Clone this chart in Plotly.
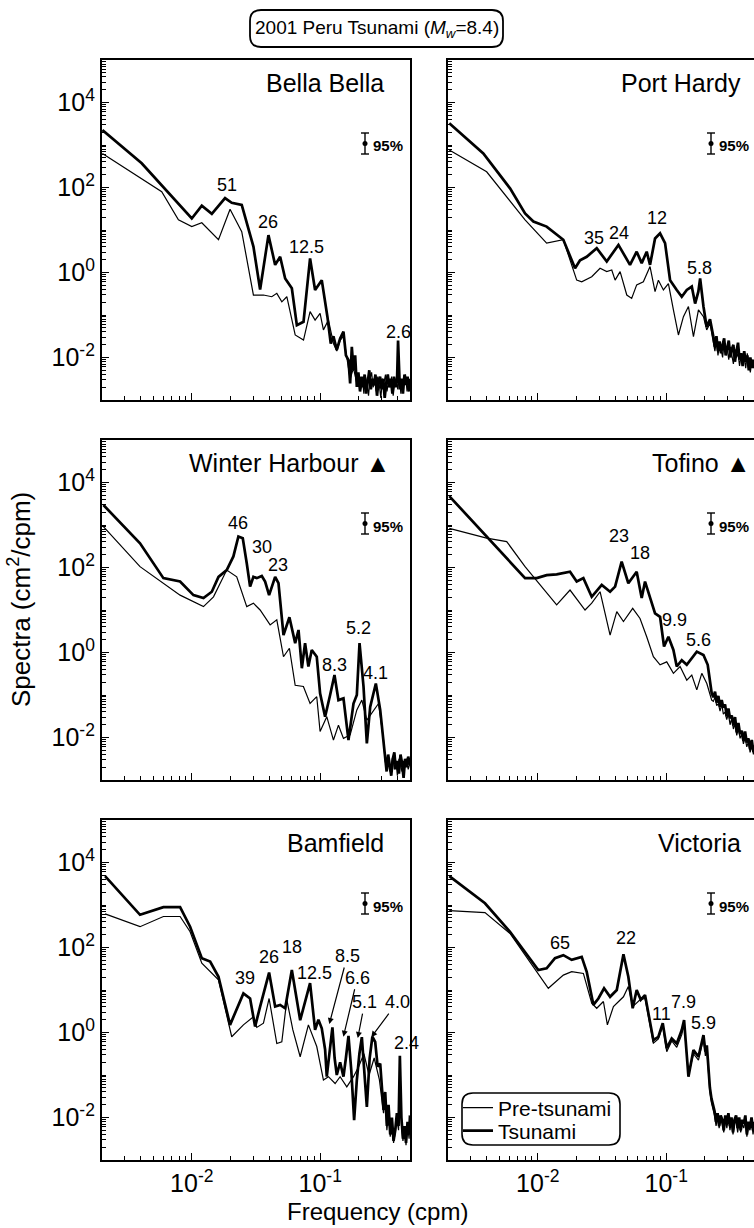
import numpy as np
import plotly.graph_objects as go

# ----------------------------------------------------------------------------
# DATA  (log10 of frequency [cpm]  and  log10 of spectral density [cm^2/cpm])
# ----------------------------------------------------------------------------
STATIONS = ["Bella Bella", "Port Hardy", "Winter Harbour \u25B2", "Tofino \u25B2", "Bamfield", "Victoria"]
SERIES_NAMES = ["Pre-tsunami", "Tsunami"]

# --- Bella Bella ---
BB_TSU_LOGF = [-2.696, -2.390, -2.000, -1.922, -1.844, -1.741, -1.689, -1.611, -1.520, -1.468, -1.403, -1.351,
               -1.312, -1.273, -1.221, -1.182, -1.130, -1.079, -1.040, -0.988, -0.944, -0.918, -0.897, -0.871,
               -0.845, -0.819, -0.800, -0.780, -0.767, -0.754, -0.741, -0.728, -0.715, -0.703, -0.690, -0.678,
               -0.666, -0.654, -0.642, -0.630, -0.618, -0.606, -0.594, -0.582, -0.570, -0.558, -0.546, -0.534,
               -0.522, -0.510, -0.498, -0.486, -0.474, -0.462, -0.450, -0.438, -0.426, -0.414, -0.402, -0.394,
               -0.388, -0.380, -0.368, -0.356, -0.344, -0.332, -0.320, -0.308, -0.301]
BB_TSU_LOGS = [3.35, 2.57, 1.27, 1.57, 1.38, 1.75, 1.64, 1.59, 0.61, -0.40, 0.88, 0.18,
               0.37, -0.14, -0.37, -1.24, -1.16, 0.33, -0.41, -0.18, -1.04, -1.67, -1.50, -1.82,
               -1.55, -1.39, -1.95, -2.06, -2.61, -1.75, -2.30, -1.95, -2.69, -2.35, -2.80, -2.45,
               -2.70, -2.40, -2.85, -2.55, -2.30, -2.75, -2.50, -2.65, -2.40, -2.90, -2.55, -2.45,
               -2.75, -2.50, -2.95, -2.60, -2.40, -2.70, -2.50, -2.85, -2.45, -2.70, -2.55, -1.60,
               -2.40, -2.75, -2.50, -2.85, -2.40, -2.65, -2.45, -2.80, -2.50]
BB_PRE_LOGF = [-2.696, -2.234, -2.104, -2.000, -1.922, -1.792, -1.702, -1.611, -1.520, -1.442, -1.377, -1.338,
               -1.299, -1.260, -1.195, -1.130, -1.079, -1.040, -1.001, -0.975, -0.936, -0.897, -0.871, -0.845,
               -0.819, -0.793, -0.767, -0.741, -0.715, -0.697, -0.684, -0.672, -0.660, -0.648, -0.636, -0.624,
               -0.612, -0.600, -0.588, -0.576, -0.564, -0.552, -0.540, -0.528, -0.516, -0.504, -0.492, -0.480,
               -0.468, -0.456, -0.444, -0.432, -0.420, -0.408, -0.396, -0.384, -0.372, -0.360, -0.348, -0.336,
               -0.324, -0.312, -0.301]
BB_PRE_LOGS = [2.80, 1.90, 1.24, 1.08, 1.17, 0.77, 1.49, 0.96, -0.53, -0.53, -0.57, -0.49,
               -0.69, -0.57, -1.47, -1.59, -0.92, -1.12, -0.96, -1.35, -1.12, -1.67, -1.85, -1.60,
               -1.50, -2.05, -2.50, -2.25, -2.60, -2.40, -2.75, -2.50, -2.85, -2.45, -2.60, -2.90,
               -2.50, -2.35, -2.70, -2.55, -2.80, -2.45, -2.65, -2.95, -2.50, -2.60, -2.40, -2.80,
               -2.55, -2.70, -2.45, -2.90, -2.60, -2.50, -2.75, -2.45, -2.85, -2.55, -2.65, -2.40,
               -2.80, -2.55, -2.70]

# --- Port Hardy ---
PH_TAIL_LOGF = [-0.621, -0.609, -0.597, -0.585, -0.573, -0.561, -0.549, -0.537, -0.525, -0.513, -0.501, -0.489,
                -0.477, -0.465, -0.453, -0.441, -0.429, -0.417, -0.405, -0.393, -0.381, -0.369, -0.357, -0.345,
                -0.333, -0.321, -0.316]
PH_TSU_LOGF = [-2.689, -2.424, -2.216, -2.099, -2.034, -1.931, -1.801, -1.710, -1.671, -1.619, -1.541, -1.463,
               -1.372, -1.282, -1.230, -1.191, -1.152, -1.126, -1.087, -1.048, -1.009, -0.970, -0.918, -0.879,
               -0.840, -0.801, -0.775, -0.750, -0.736, -0.720, -0.710, -0.685, -0.659, -0.633]
PH_TSU_LOGS = [3.51, 2.80, 1.98, 1.39, 1.20, 1.08, 0.77, 0.10, 0.29, 0.37, 0.57, 0.26,
               0.65, 0.18, 0.49, 0.22, 0.49, 0.18, 0.80, 0.92, 0.69, -0.18, -0.41, -0.57,
               -0.41, -0.33, -0.73, -0.45, -0.14, -0.60, -0.80, -1.28, -1.10, -1.51,
               -1.75, -1.50, -1.85, -1.62, -1.90, -1.70, -1.55, -1.95, -1.75, -1.60, -2.00, -1.80,
               -1.70, -2.10, -1.85, -1.65, -2.05, -1.90, -2.20, -1.85, -2.10, -1.95, -2.30, -2.00,
               -2.25, -2.05, -2.20]
PH_PRE_LOGF = [-2.689, -2.398, -2.099, -1.931, -1.801, -1.697, -1.658, -1.580, -1.515, -1.463, -1.424, -1.398,
               -1.359, -1.307, -1.269, -1.230, -1.178, -1.126, -1.087, -1.061, -1.022, -0.983, -0.944, -0.905,
               -0.866, -0.827, -0.788, -0.749, -0.710, -0.685, -0.659, -0.633]
PH_PRE_LOGS = [2.88, 2.37, 1.24, 0.69, 0.77, -0.18, -0.22, -0.10, 0.10, 0.02, 0.06, -0.18,
               0.02, -0.53, -0.61, -0.29, -0.22, 0.14, -0.45, -0.18, -0.41, -0.26, -0.88, -1.47,
               -1.04, -0.80, -1.51, -0.88, -1.04, -1.35, -1.20, -1.60,
               -1.85, -1.60, -1.95, -1.70, -1.80, -2.00, -1.65, -1.90, -1.80, -2.05, -1.75, -1.95,
               -2.15, -1.80, -2.00, -1.90, -2.20, -1.95, -2.10, -2.00, -2.25, -1.90, -2.15, -2.35,
               -2.05, -2.25, -2.15]

# --- Winter Harbour ---
WH_TAIL_LOGF = [-0.495, -0.483, -0.471, -0.459, -0.447, -0.435, -0.423, -0.411, -0.399, -0.387, -0.375, -0.363,
                -0.351, -0.339, -0.327, -0.315, -0.301]
WH_TSU_LOGF = [-2.688, -2.403, -2.221, -2.091, -1.987, -1.909, -1.844, -1.792, -1.728, -1.676, -1.637, -1.603,
               -1.572, -1.546, -1.520, -1.494, -1.455, -1.429, -1.398, -1.351, -1.325, -1.286, -1.240, -1.195,
               -1.169, -1.143, -1.118, -1.092, -1.066, -1.027, -1.001, -0.962, -0.923, -0.889, -0.858, -0.819,
               -0.780, -0.741, -0.715, -0.694, -0.663, -0.637, -0.611, -0.567, -0.533, -0.507]
WH_TSU_LOGS = [3.47, 2.57, 1.75, 1.67, 1.35, 1.28, 1.43, 1.78, 1.94, 2.26, 2.73, 2.69,
               2.10, 1.55, 1.78, 1.75, 1.80, 1.67, 1.35, 1.78, 1.63, 0.41, 0.83, 0.22,
               0.53, -0.37, 0.22, -0.33, 0.06, -0.10, -0.96, -1.51, -1.00, -0.53, -1.12, -1.08,
               -2.06, -1.20, -1.00, 0.22, -0.80, -2.14, -1.28, -0.73, -1.35, -2.14,
               -2.45, -2.80, -2.40, -2.65, -2.90, -2.50, -2.35, -2.75, -2.55, -2.85, -2.40, -2.60,
               -2.95, -2.50, -2.70, -2.45, -2.65]
WH_PRE_LOGF = [-2.688, -2.403, -2.091, -1.909, -1.831, -1.728, -1.650, -1.572, -1.520, -1.468, -1.390, -1.338,
               -1.286, -1.240, -1.195, -1.131, -1.079, -1.027, -1.001, -0.949, -0.897, -0.858, -0.819, -0.767,
               -0.715, -0.676, -0.637, -0.585, -0.546, -0.507]
WH_PRE_LOGS = [2.96, 2.02, 1.35, 1.08, 1.31, 1.94, 1.78, 1.08, 1.16, 1.00, 0.65, 0.77,
               -0.10, 0.10, -0.77, -0.80, -1.20, -1.04, -1.86, -1.51, -2.06, -1.71, -2.02, -1.94,
               -1.35, -1.12, -1.59, -1.35, -1.20, -2.06,
               -2.55, -2.70, -2.50, -2.80, -2.60, -2.45, -2.75, -2.55, -2.90, -2.50, -2.65, -2.80,
               -2.55, -2.70, -2.50, -2.75, -2.60]

# --- Tofino ---
TO_TAIL_LOGF = [-0.633, -0.620, -0.607, -0.594, -0.581, -0.568, -0.555, -0.542, -0.529, -0.516, -0.503, -0.490,
                -0.477, -0.464, -0.451, -0.438, -0.425, -0.412, -0.399, -0.386, -0.373, -0.360, -0.347, -0.334,
                -0.321, -0.316]
TO_TSU_LOGF = [-2.689, -2.099, -2.008, -1.931, -1.853, -1.749, -1.697, -1.645, -1.580, -1.502, -1.437, -1.398,
               -1.347, -1.295, -1.230, -1.191, -1.165, -1.126, -1.087, -1.048, -1.017, -0.983, -0.944, -0.918,
               -0.879, -0.840, -0.801, -0.762, -0.710, -0.677, -0.646]
TO_TSU_LOGS = [3.68, 1.75, 1.75, 1.82, 1.84, 1.90, 1.67, 1.75, 1.31, 1.59, 1.43, 1.55,
               2.14, 1.63, 1.90, 1.28, 1.67, 1.28, 0.92, 0.84, 0.14, 0.37, 0.06, -0.33,
               -0.18, -0.29, -0.14, 0.02, -0.06, -0.29, -0.96,
               -1.05, -0.92, -1.18, -1.02, -1.28, -1.12, -1.30, -1.22, -1.50, -1.32, -1.55, -1.48,
               -1.72, -1.52, -1.88, -1.66, -1.92, -1.84, -2.08, -1.86, -2.12, -2.02, -2.28, -2.06,
               -2.34, -2.18]
TO_PRE_LOGF = [-2.689, -2.398, -2.242, -2.099, -1.853, -1.749, -1.632, -1.580, -1.515, -1.476, -1.437, -1.385,
               -1.333, -1.261, -1.204, -1.152, -1.100, -1.048, -0.996, -0.944, -0.892, -0.840, -0.801, -0.762,
               -0.723, -0.684, -0.646]
TO_PRE_LOGS = [2.92, 2.69, 2.61, 2.02, 1.12, 1.47, 1.00, 1.16, 1.43, 0.92, 0.41, 0.96,
               0.73, 1.04, 0.80, 0.37, -0.10, -0.29, -0.22, -0.49, -0.33, -0.65, -0.53, -0.88,
               -0.49, -0.73, -1.12,
               -1.15, -1.05, -1.25, -1.20, -1.38, -1.22, -1.45, -1.40, -1.58, -1.44, -1.70, -1.55,
               -1.80, -1.68, -1.95, -1.78, -2.02, -1.92, -2.15, -2.00, -2.22, -2.10, -2.35, -2.18,
               -2.40, -2.30]

# --- Bamfield ---
BA_TAIL_LOGF = [-0.494, -0.481, -0.468, -0.455, -0.442, -0.429, -0.416, -0.403, -0.390, -0.380, -0.368, -0.356,
                -0.344, -0.332, -0.320, -0.308, -0.301]
BA_TSU_LOGF = [-2.675, -2.403, -2.221, -2.091, -2.013, -1.922, -1.857, -1.792, -1.702, -1.598, -1.546, -1.507,
               -1.468, -1.398, -1.351, -1.312, -1.273, -1.221, -1.156, -1.079, -1.040, -1.014, -0.988, -0.962,
               -0.949, -0.927, -0.905, -0.888, -0.871, -0.845, -0.819, -0.800, -0.780, -0.758, -0.736, -0.715,
               -0.695, -0.676, -0.656, -0.637, -0.615, -0.594, -0.572, -0.553, -0.533, -0.507]
BA_TSU_LOGS = [3.68, 2.77, 2.95, 2.95, 2.49, 1.75, 1.67, 1.31, 0.18, 0.92, 0.80, 0.14,
               0.61, 1.41, 0.61, 0.65, 0.57, 1.47, 0.29, 1.16, 0.06, 0.30, 0.10, -0.40,
               -1.04, -0.50, 0.12, -0.60, -1.00, -0.70, -1.04, -0.60, -0.08, -0.90, -2.06, -1.12,
               -0.50, -0.11, -0.90, -1.75, -0.60, -0.10, -0.22, -0.80, -0.73, -1.82,
               -1.40, -2.20, -1.70, -2.40, -2.00, -2.55, -2.30, -1.90, -2.20, -0.55, -2.00, -2.50,
               -2.20, -2.60, -2.10, -2.40, -1.95]
BA_PRE_LOGF = [-2.675, -2.403, -2.221, -2.091, -2.013, -1.922, -1.792, -1.689, -1.598, -1.520, -1.494, -1.442,
               -1.398, -1.338, -1.299, -1.260, -1.213, -1.156, -1.092, -1.027, -0.975, -0.936, -0.884, -0.845,
               -0.793, -0.741, -0.700, -0.660, -0.620, -0.580, -0.540, -0.507]
BA_PRE_LOGS = [2.79, 2.49, 2.73, 2.73, 2.37, 1.63, 1.24, -0.10, 0.18, 0.37, 0.12, 0.22,
               0.80, -0.26, -0.22, 0.77, 0.06, -0.57, 0.18, -0.33, -1.12, -1.04, -1.20, -1.04,
               -1.28, -1.04, -0.80, -0.50, -1.00, -0.60, -1.10, -1.90,
               -1.60, -2.30, -1.90, -2.45, -2.10, -2.60, -2.35, -2.05, -2.30, -0.80, -2.15, -2.55,
               -2.30, -2.65, -2.20, -2.50, -2.05]

# --- Victoria ---
VI_TAIL_LOGF = [-0.624, -0.612, -0.600, -0.588, -0.576, -0.564, -0.552, -0.540, -0.528, -0.516, -0.504, -0.492,
                -0.480, -0.468, -0.456, -0.444, -0.432, -0.420, -0.408, -0.396, -0.384, -0.372, -0.360, -0.348,
                -0.336, -0.324, -0.316]
VI_TSU_LOGF = [-2.689, -2.411, -2.216, -1.996, -1.931, -1.866, -1.801, -1.736, -1.658, -1.619, -1.567, -1.528,
               -1.484, -1.437, -1.385, -1.333, -1.295, -1.261, -1.230, -1.198, -1.165, -1.126, -1.100, -1.061,
               -1.027, -0.996, -0.957, -0.918, -0.879, -0.861, -0.827, -0.788, -0.749, -0.710, -0.695, -0.684,
               -0.672, -0.660, -0.648, -0.636]
VI_TSU_LOGS = [3.68, 3.04, 2.37, 1.47, 1.51, 1.75, 1.82, 1.71, 1.78, 1.43, 0.65, 0.80,
               1.04, 0.84, 1.00, 1.84, 1.31, 0.57, 1.00, 0.77, 0.88, 0.22, -0.18, -0.10,
               0.22, -0.37, -0.14, -0.26, 0.06, 0.29, -1.04, -0.41, -0.57, -0.06, -0.45, -0.30,
               -0.90, -1.30, -1.55, -1.70,
               -1.85, -2.10, -1.90, -2.20, -1.95, -2.05, -2.30, -1.95, -2.15, -1.90, -2.20, -2.00,
               -2.35, -2.05, -1.95, -2.25, -2.00, -2.30, -2.05, -2.15, -1.95, -2.40, -2.10, -2.25,
               -2.00, -2.30, -2.10]
VI_PRE_LOGF = [-2.689, -2.411, -2.216, -1.918, -1.801, -1.736, -1.645, -1.580, -1.541, -1.489, -1.458, -1.411,
               -1.333, -1.295, -1.261, -1.204, -1.165, -1.126, -1.100, -1.061, -1.027, -0.996, -0.957, -0.918,
               -0.879, -0.861, -0.827, -0.788, -0.749, -0.710, -0.695, -0.684, -0.672, -0.660, -0.648, -0.636]
VI_PRE_LOGS = [2.87, 2.82, 2.33, 1.04, 1.35, 1.43, 1.39, 0.69, 0.57, 0.73, 0.18, 0.61,
               0.84, 1.08, 0.61, 0.77, 0.80, 0.15, -0.25, -0.15, 0.15, -0.45, -0.20, -0.35,
               -0.05, 0.20, -1.00, -0.50, -0.65, -0.15, -0.55, -0.40, -1.00, -1.40, -1.65, -1.80,
               -1.95, -2.20, -2.00, -2.25, -2.05, -2.15, -2.35, -2.05, -2.25, -2.00, -2.30, -2.10,
               -2.40, -2.15, -2.05, -2.35, -2.10, -2.35, -2.15, -2.25, -2.05, -2.45, -2.20, -2.30,
               -2.10, -2.40, -2.20]

# Peak labels: period (min) and log10 spectral level of the label
BB_PEAK_PERIODS = ["51", "26", "12.5", "2.6"]
BB_PEAK_LOGS = [2.06, 1.19, 0.60, -1.40]
PH_PEAK_PERIODS = ["35", "24", "12", "5.8"]
PH_PEAK_LOGS = [0.81, 0.93, 1.28, 0.11]
WH_PEAK_PERIODS = ["46", "30", "23", "8.3", "5.2", "4.1"]
WH_PEAK_LOGS = [3.05, 2.48, 2.06, -0.29, 0.58, -0.48]
TO_PEAK_PERIODS = ["23", "18", "9.9", "5.6"]
TO_PEAK_LOGS = [2.74, 2.34, 0.77, 0.29]
BA_PEAK_PERIODS = ["39", "26", "18", "12.5", "2.4"]
BA_PEAK_LOGS = [1.28, 1.78, 2.01, 1.40, -0.25]
BA_ARROW_PERIODS = ["8.5", "6.6", "5.1", "4.0"]
BA_ARROW_LOGS = [0.20, -0.10, -0.13, -0.11]
VI_PEAK_PERIODS = ["65", "22", "11", "7.9", "5.9"]
VI_PEAK_LOGS = [2.11, 2.22, 0.44, 0.72, 0.22]

# Axis tick labels
X_TICK_VALUES = [0.01, 0.1]
X_TICK_LABELS = ["10<sup>-2</sup>", "10<sup>-1</sup>"]
Y_TICK_VALUES = [1e-2, 1e0, 1e2, 1e4]
Y_TICK_LABELS = ["10<sup>-2</sup>", "10<sup>0</sup>", "10<sup>2</sup>", "10<sup>4</sup>"]

# ----------------------------------------------------------------------------
# LAYOUT / STYLE
# ----------------------------------------------------------------------------
FONT = "Liberation Sans, Arial, Helvetica, sans-serif"
FIG_W, FIG_H = 754, 1228
ML, MR, MT, MB = 102, 0, 60, 68
PW = FIG_W - ML - MR
PH = FIG_H - MT - MB
COL_L = [102, 448]
COL_R = [410, 754]
ROW_T = [60, 440, 820]
ROW_B = [400, 780, 1160]
XMIN = np.log10(0.002)
XMAX_L = np.log10(0.5)
PX_PER_DEC = (COL_R[0] - COL_L[0]) / (XMAX_L - XMIN)
XMAX = [XMAX_L, XMIN + (COL_R[1] - COL_L[1]) / PX_PER_DEC]


def px2x(px):
    return (px - ML) / PW


def py2y(py):
    return (FIG_H - MB - py) / PH


def rounded_path(x0, y0, x1, y1, r):
    X = px2x
    Y = py2y
    return (f"M {X(x0 + r)},{Y(y0)} L {X(x1 - r)},{Y(y0)} Q {X(x1)},{Y(y0)} {X(x1)},{Y(y0 + r)} "
            f"L {X(x1)},{Y(y1 - r)} Q {X(x1)},{Y(y1)} {X(x1 - r)},{Y(y1)} "
            f"L {X(x0 + r)},{Y(y1)} Q {X(x0)},{Y(y1)} {X(x0)},{Y(y1 - r)} "
            f"L {X(x0)},{Y(y0 + r)} Q {X(x0)},{Y(y0)} {X(x0 + r)},{Y(y0)} Z")


panels = [
    dict(name=STATIONS[0], row=0, col=0, pre=(BB_PRE_LOGF, BB_PRE_LOGS), tsu=(BB_TSU_LOGF, BB_TSU_LOGS),
         peaks=(BB_PEAK_PERIODS, BB_PEAK_LOGS), shifts=[-2, 1, -1, 3], name_right=386),
    dict(name=STATIONS[1], row=0, col=1, pre=(PH_PRE_LOGF + PH_TAIL_LOGF, PH_PRE_LOGS),
         tsu=(PH_TSU_LOGF + PH_TAIL_LOGF, PH_TSU_LOGS),
         peaks=(PH_PEAK_PERIODS, PH_PEAK_LOGS), shifts=[-2, 2, 1, 3], name_right=743),
    dict(name=STATIONS[2], row=1, col=0, pre=(WH_PRE_LOGF + WH_TAIL_LOGF, WH_PRE_LOGS),
         tsu=(WH_TSU_LOGF + WH_TAIL_LOGF, WH_TSU_LOGS),
         peaks=(WH_PEAK_PERIODS, WH_PEAK_LOGS), shifts=[3, 3, 4, 4, 2, 6], name_right=392),
    dict(name=STATIONS[3], row=1, col=1, pre=(TO_PRE_LOGF + TO_TAIL_LOGF, TO_PRE_LOGS),
         tsu=(TO_TSU_LOGF + TO_TAIL_LOGF, TO_TSU_LOGS),
         peaks=(TO_PEAK_PERIODS, TO_PEAK_LOGS), shifts=[-1, 7, 8, 0], name_right=752),
    dict(name=STATIONS[4], row=2, col=0, pre=(BA_PRE_LOGF + BA_TAIL_LOGF, BA_PRE_LOGS),
         tsu=(BA_TSU_LOGF + BA_TAIL_LOGF, BA_TSU_LOGS),
         peaks=(BA_PEAK_PERIODS, BA_PEAK_LOGS), shifts=[1, 2, 5, 7, 7], name_right=386),
    dict(name=STATIONS[5], row=2, col=1, pre=(VI_PRE_LOGF + VI_TAIL_LOGF, VI_PRE_LOGS),
         tsu=(VI_TSU_LOGF + VI_TAIL_LOGF, VI_TSU_LOGS),
         peaks=(VI_PEAK_PERIODS, VI_PEAK_LOGS), shifts=[-2, 4, 1, 4, 8], name_right=743),
]

ARROW_OFFSETS = [(18, -68), (14, -59), (7, -36), (26, -35)]

XMINOR = [k * 10.0 ** e for e in (-3, -2, -1) for k in range(2, 10)]
YMINOR = [k * 10.0 ** e for e in range(-3, 5) for k in range(1, 10)
          if not (k == 1 and e % 2 == 0)] + [1e5]

fig = go.Figure()
annotations = []
shapes = []
layout_axes = {}
TICKFONT = dict(family=FONT, size=25, color="black")

for i, p in enumerate(panels, start=1):
    xs = "" if i == 1 else str(i)
    row, col = p["row"], p["col"]
    for k, ((f, s), nm, w) in enumerate(((p["pre"], SERIES_NAMES[0], 1.2), (p["tsu"], SERIES_NAMES[1], 2.7))):
        assert len(f) == len(s), (p["name"], nm, len(f), len(s))
        fig.add_trace(go.Scatter(x=10 ** np.array(f), y=10 ** np.array(s), mode="lines",
                                 line=dict(color="black", width=w), name=nm,
                                 xaxis=f"x{xs}", yaxis=f"y{xs}", showlegend=(i == 6),
                                 legend=("legend" if k == 0 else "legend2"),
                                 hoverinfo="skip"))
    layout_axes[f"xaxis{xs}"] = dict(
        domain=[px2x(COL_L[col]), px2x(COL_R[col])], type="log", range=[XMIN, XMAX[col]],
        anchor=f"y{xs}", showline=True, linecolor="black", linewidth=2.2, mirror=True,
        ticks="inside", ticklen=7, tickwidth=1.3, tickcolor="black",
        tickmode="array", tickvals=X_TICK_VALUES, ticktext=X_TICK_LABELS,
        showticklabels=(row == 2), tickfont=TICKFONT,
        minor=dict(ticks="inside", ticklen=4, tickwidth=1, tickcolor="black",
                   tickmode="array", tickvals=XMINOR, showgrid=False),
        showgrid=False, zeroline=False, fixedrange=True)
    layout_axes[f"yaxis{xs}"] = dict(
        domain=[py2y(ROW_B[row]), py2y(ROW_T[row])], type="log", range=[-3, 5],
        anchor=f"x{xs}", showline=True, linecolor="black", linewidth=2.2, mirror=(col == 0),
        ticks="inside", ticklen=7, tickwidth=1.3, tickcolor="black",
        tickmode="array", tickvals=Y_TICK_VALUES, ticktext=Y_TICK_LABELS,
        showticklabels=(col == 0), tickfont=TICKFONT,
        minor=dict(ticks="inside", ticklen=4, tickwidth=1, tickcolor="black",
                   tickmode="array", tickvals=YMINOR, showgrid=False),
        showgrid=False, zeroline=False, fixedrange=True)

    L, T = COL_L[col], ROW_T[row]
    # station name
    annotations.append(dict(x=px2x(p["name_right"]), y=py2y(T + 23), xref="paper", yref="paper",
                            text=p["name"], showarrow=False, xanchor="right", yanchor="middle",
                            font=dict(family=FONT, size=25, color="black")))
    # 95% confidence bar
    xb = L + 263
    for (a, b, c, d) in ((xb, T + 73, xb, T + 94), (xb - 4, T + 73, xb + 4, T + 73),
                         (xb - 4, T + 94, xb + 4, T + 94)):
        shapes.append(dict(type="line", xref="paper", yref="paper", x0=px2x(a), y0=py2y(b),
                           x1=px2x(c), y1=py2y(d), line=dict(color="black", width=1.4)))
    shapes.append(dict(type="circle", xref="paper", yref="paper", x0=px2x(xb - 2.5), x1=px2x(xb + 2.5),
                       y0=py2y(T + 86), y1=py2y(T + 81), fillcolor="black", line=dict(color="black", width=0)))
    annotations.append(dict(x=px2x(L + 269), y=py2y(T + 86), xref="paper", yref="paper",
                            text="<b>95%</b>", showarrow=False, xanchor="left", yanchor="middle",
                            font=dict(family=FONT, size=15, color="black")))
    # peak labels
    periods, levels = p["peaks"]
    for per, lv, sh in zip(periods, levels, p["shifts"]):
        annotations.append(dict(x=np.log10(1.0 / float(per)), y=lv, xref=f"x{xs}", yref=f"y{xs}",
                                text=per, showarrow=False, xshift=sh, xanchor="center", yanchor="middle",
                                font=dict(family=FONT, size=18, color="black")))
    if i == 5:
        for per, lv, (ax, ay) in zip(BA_ARROW_PERIODS, BA_ARROW_LOGS, ARROW_OFFSETS):
            annotations.append(dict(x=np.log10(1.0 / float(per)), y=lv, xref=f"x{xs}", yref=f"y{xs}",
                                    text=per, showarrow=True, ax=ax, ay=ay, arrowhead=2, arrowsize=1,
                                    arrowwidth=1.2, arrowcolor="black", standoff=0,
                                    font=dict(family=FONT, size=18, color="black")))

# title box
shapes.append(dict(type="path", xref="paper", yref="paper", path=rounded_path(250, 10, 503, 47, 11),
                   line=dict(color="black", width=1.8)))
annotations.append(dict(x=px2x(376.5), y=py2y(29), xref="paper", yref="paper",
                        text="2001 Peru Tsunami (<i>M<sub>w</sub></i>=8.4)", showarrow=False,
                        xanchor="center", yanchor="middle", font=dict(family=FONT, size=19, color="black")))
# legend box
shapes.append(dict(type="path", xref="paper", yref="paper", path=rounded_path(462, 1093, 620, 1145, 11),
                   line=dict(color="black", width=1.6)))
# axis titles
annotations.append(dict(x=px2x(19), y=py2y(600), xref="paper", yref="paper",
                        text="Spectra (cm<sup>2</sup>/cpm)", showarrow=False, textangle=-90,
                        xanchor="center", yanchor="middle", font=dict(family=FONT, size=26, color="black")))
annotations.append(dict(x=px2x(377), y=py2y(1211), xref="paper", yref="paper",
                        text="Frequency (cpm)", showarrow=False,
                        xanchor="center", yanchor="middle", font=dict(family=FONT, size=24, color="black")))

LEGFONT = dict(family=FONT, size=21, color="black")
fig.update_layout(
    width=FIG_W, height=FIG_H, margin=dict(l=ML, r=MR, t=MT, b=MB, autoexpand=False),
    paper_bgcolor="white", plot_bgcolor="white", showlegend=True,
    legend=dict(x=px2x(458), y=py2y(1108), xanchor="left", yanchor="middle", bgcolor="rgba(0,0,0,0)",
                borderwidth=0, font=LEGFONT, itemwidth=30),
    legend2=dict(x=px2x(458), y=py2y(1131), xanchor="left", yanchor="middle", bgcolor="rgba(0,0,0,0)",
                 borderwidth=0, font=LEGFONT, itemwidth=30),
    annotations=annotations, shapes=shapes, font=dict(family=FONT, color="black"),
    **layout_axes)

fig.write_html("out.html")
